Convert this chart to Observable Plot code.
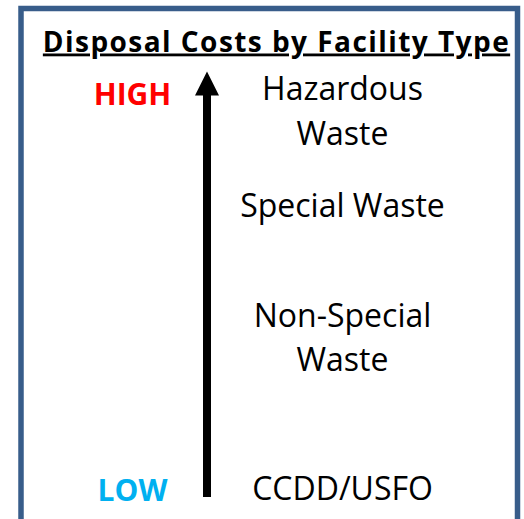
<!DOCTYPE html>
<html><head><meta charset="utf-8">
<script src="https://cdn.jsdelivr.net/npm/d3@7"></script>
<script src="https://cdn.jsdelivr.net/npm/@observablehq/plot@0.6"></script>
<style>html,body{margin:0;padding:0;background:#fff}svg{display:block}</style>
</head><body><div id="chart"></div>
<script>
// ---- data ----
const titleText = "Disposal Costs by Facility Type";
const facilityTypes = ["CCDD/USFO", "Non-Special\nWaste", "Special Waste", "Hazardous\nWaste"];
const costLevels = [0, 40, 75, 100];           // relative disposal cost
const rankLabels = ["LOW", "HIGH"];
const rankLevels = [0, 105];
const rankColors = ["#00B0F0", "#FF0000"];
const arrowFrom = -1.6;
const arrowTo = 105;
const columns = ["rank", "arrow", "type"];

const facilities = facilityTypes.map((t, i) => ({type: t, level: costLevels[i]}));
const ranks = rankLabels.map((t, i) => ({label: t, level: rankLevels[i], color: rankColors[i]}));

const headSymbol = {
  draw(context, size) {
    const r = Math.sqrt(size / Math.PI);
    context.moveTo(0, -2 * r);
    context.lineTo(r, 0);
    context.lineTo(-r, 0);
    context.closePath();
  }
};

const font = "'Open Sans', sans-serif";

const chart = Plot.plot({
  width: 524,
  height: 519,
  margin: 0,
  style: {fontFamily: font, background: "#fff"},
  x: {type: "point", domain: columns, range: [131, 342], padding: 0, axis: null},
  y: {domain: [-1.6, 111.1], range: [497, 72], axis: null},
  color: {type: "identity"},
  marks: [
    Plot.frame({stroke: "#385D8A", strokeWidth: 5.5, insetLeft: 20.5, insetTop: 8, insetRight: 7, insetBottom: -10}),
    Plot.text([titleText], {frameAnchor: "top", lineAnchor: "bottom", dx: 14, dy: 51,
      fontSize: 28, fontWeight: "bold", fill: "black"}),
    Plot.ruleX([columns[1]], {x: d => d, dx: -30.5, y1: () => arrowFrom, y2: () => arrowTo, stroke: "black", strokeWidth: 8}),
    Plot.dot([columns[1]], {x: d => d, dx: -30.5, y: () => arrowTo, r: 12, symbol: headSymbol, fill: "black", stroke: "none"}),
    Plot.text(ranks, {x: () => columns[0], y: "level", text: "label", fill: "color",
      fontSize: 30, fontWeight: "bold"}),
    Plot.text(facilities, {x: () => columns[2], y: "level", text: "type", fill: "black",
      fontSize: 32, lineHeight: 1.4, dy: -6})
  ]
});

document.getElementById("chart").appendChild(chart);
d3.select(chart).selectAll("text")
  .filter(function() { return this.textContent === titleText; })
  .style("letter-spacing", "1.45px")
  .style("text-decoration", "underline")
  .style("text-decoration-thickness", "2.5px")
  .style("text-underline-offset", "5px");
</script>
</body></html>
